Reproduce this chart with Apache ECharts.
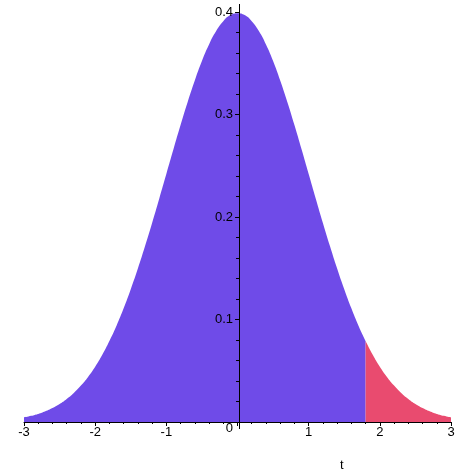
<!DOCTYPE html>
<html>
<head>
<meta charset="utf-8">
<script src="https://cdn.jsdelivr.net/npm/echarts@6/dist/echarts.min.js"></script>
<style>html,body{margin:0;padding:0;background:#fff}#c{width:474px;height:474px}</style>
</head>
<body>
<div id="c"></div>
<script>
// t values and density values
var tValues = [-3.0,-2.9,-2.8,-2.7,-2.6,-2.5,-2.4,-2.3,-2.2,-2.1,-2.0,-1.9,-1.8,-1.7,-1.6,-1.5,-1.4,-1.3,-1.2,-1.1,-1.0,-0.9,-0.8,-0.7,-0.6,-0.5,-0.4,-0.3,-0.2,-0.1,0.0,0.1,0.2,0.3,0.4,0.5,0.6,0.7,0.8,0.9,1.0,1.1,1.2,1.3,1.4,1.5,1.6,1.7,1.8,1.9,2.0,2.1,2.2,2.3,2.4,2.5,2.6,2.7,2.8,2.9,3.0];
var density = [0.0044,0.0060,0.0079,0.0104,0.0136,0.0175,0.0224,0.0283,0.0355,0.0440,0.0540,0.0656,0.0790,0.0940,0.1109,0.1295,0.1497,0.1714,0.1942,0.2179,0.2420,0.2661,0.2897,0.3123,0.3332,0.3521,0.3683,0.3814,0.3910,0.3970,0.3989,0.3970,0.3910,0.3814,0.3683,0.3521,0.3332,0.3123,0.2897,0.2661,0.2420,0.2179,0.1942,0.1714,0.1497,0.1295,0.1109,0.0940,0.0790,0.0656,0.0540,0.0440,0.0355,0.0283,0.0224,0.0175,0.0136,0.0104,0.0079,0.0060,0.0044];
var cutoff = 1.8;
var xTicks = [-3, 3, 1];
var yTicks = [0, 0.4, 0.1];
var axisTitle = 't';

var leftData = [], rightData = [];
for (var i = 0; i < tValues.length; i++) {
  if (tValues[i] <= cutoff + 1e-9) leftData.push([tValues[i], density[i]]);
  if (tValues[i] >= cutoff - 1e-9) rightData.push([tValues[i], density[i]]);
}

var FONT = 'Liberation Sans, Arial, sans-serif';
var GRID_LEFT = 24;
var chart = echarts.init(document.getElementById('c'), null, {renderer: 'canvas'});
chart.setOption({
  animation: false,
  backgroundColor: '#ffffff',
  grid: {left: GRID_LEFT, right: 23, top: 12, bottom: 52, containLabel: false},
  xAxis: {
    type: 'value', min: xTicks[0], max: xTicks[1], interval: xTicks[2], z: 10,
    axisLine: {onZero: false, lineStyle: {color: '#000', width: 1}},
    axisTick: {show: true, length: 4, inside: false, lineStyle: {color: '#000'}},
    minorTick: {show: true, splitNumber: 5, length: 2, lineStyle: {color: '#000'}},
    splitLine: {show: false},
    axisLabel: {color: '#000', fontSize: 13, fontFamily: FONT, margin: 4,
      formatter: function (v) { return v === 0 ? '' : String(v); }, showMinLabel: true, showMaxLabel: true}
  },
  yAxis: {
    type: 'value', min: yTicks[0], max: yTicks[1], interval: yTicks[2], z: 10,
    axisLine: {show: false, onZero: false, lineStyle: {color: '#000', width: 1}},
    axisTick: {show: true, length: 4, lineStyle: {color: '#000'}},
    minorTick: {show: true, splitNumber: 5, length: 3, lineStyle: {color: '#000'}},
    splitLine: {show: false},
    axisLabel: {color: '#000', fontSize: 13, fontFamily: FONT, margin: 6,
      formatter: function (v) { return v === 0 ? '{z|0}' : String(Math.round(v * 10) / 10); },
      rich: {z: {fontSize: 13, fontFamily: FONT, color: '#000', padding: [12, 0, 0, 0]}}}
  },
  series: [
    {type: 'line', data: leftData, smooth: true, showSymbol: false, symbol: 'none',
      lineStyle: {width: 0, color: '#6f4be8'}, areaStyle: {color: '#6f4be8', opacity: 1}, z: 1},
    {type: 'line', data: rightData, smooth: true, showSymbol: false, symbol: 'none',
      lineStyle: {width: 0, color: '#e94b6f'}, areaStyle: {color: '#e94b6f', opacity: 1}, z: 1}
  ]
});

var x0 = chart.convertToPixel({xAxisIndex: 0}, 0);
var yTop = chart.convertToPixel({yAxisIndex: 0}, yTicks[1]);
var yBot = chart.convertToPixel({yAxisIndex: 0}, 0);
var xLine = Math.round(x0) + 0.5;
chart.setOption({
  yAxis: {offset: -(x0 - GRID_LEFT)},
  graphic: [
    {type: 'line', z: 100, shape: {x1: xLine, y1: yTop - 8, x2: xLine, y2: yBot + 7},
      style: {stroke: '#000', lineWidth: 1}},
    {type: 'text', z: 100, left: 340, top: 459, style: {text: axisTitle, fill: '#000', font: '13px ' + FONT}}
  ]
});
</script>
</body>
</html>
